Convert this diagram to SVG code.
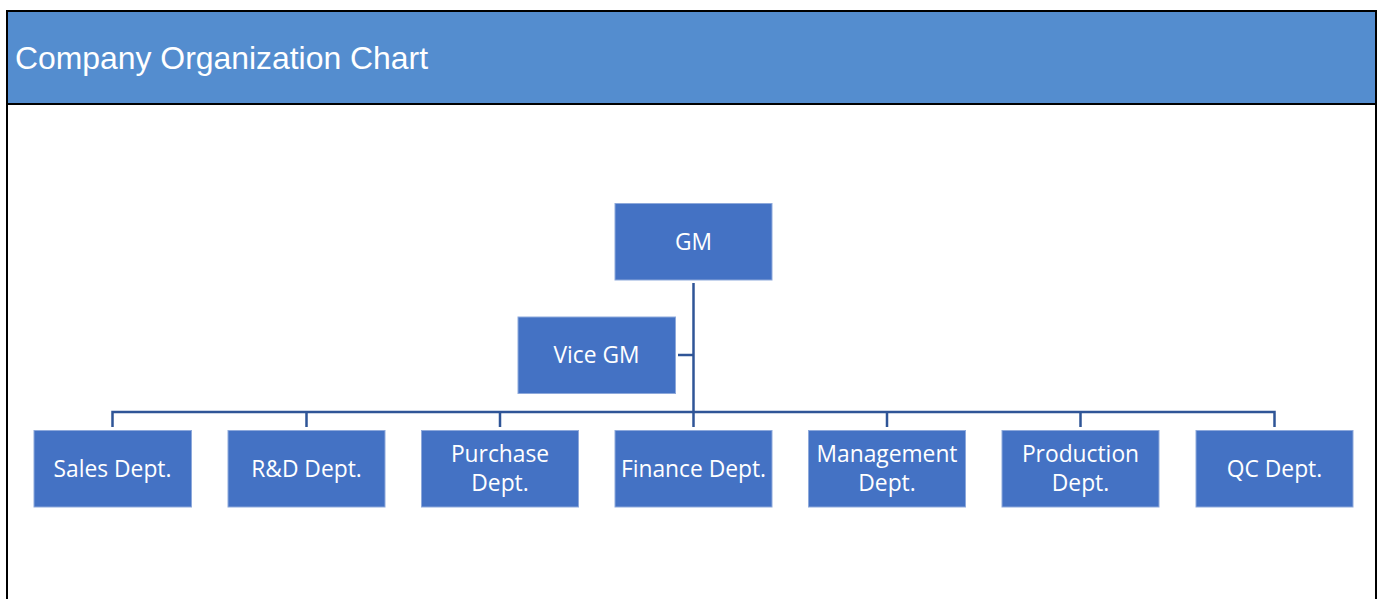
<svg xmlns="http://www.w3.org/2000/svg" width="1380" height="599" viewBox="0 0 1380 599">
<style>
.frame{fill:#fff;stroke:#000;stroke-width:2}
.header{fill:#548DCF}
.title{font-family:"Liberation Sans",Arial,sans-serif;font-size:31.9px;fill:#fff}
.box{fill:#4472C4;stroke:#8EA9DB;stroke-width:1}
.lbl{font-family:"Open Sans","Noto Sans",sans-serif;font-size:22.8px;fill:#fff;text-anchor:middle}
.conn{fill:none;stroke:#2F5597;stroke-width:2.5}
</style>
<rect x="0" y="0" width="1380" height="599" fill="#fff"/>
<rect class="frame" x="7" y="11" width="1369" height="600"/>
<rect class="header" x="8" y="12" width="1367" height="91"/>
<line x1="7" y1="104" x2="1376" y2="104" stroke="#000" stroke-width="2"/>
<text class="title" x="15" y="69">Company Organization Chart</text>
<g id="connectors">
<path class="conn" d="M693.5 283 V427"/>
<path class="conn" d="M678 355 H693.5"/>
<path class="conn" d="M112.5 427 V412 H1274.5 V427"/>
<path class="conn" d="M306.5 412 V427 M500 412 V427 M887 412 V427 M1080.5 412 V427"/>
</g>
<g id="gm"><rect class="box" x="615" y="203.5" width="157" height="76.5"/><text class="lbl" x="693.5" y="250">GM</text></g>
<g id="vicegm"><rect class="box" x="518" y="317" width="157.5" height="76.5"/><text class="lbl" x="596.5" y="363">Vice GM</text></g>
<g id="sales"><rect class="box" x="34" y="430.5" width="157.5" height="76.5"/><text class="lbl" x="112.5" y="477">Sales Dept.</text></g>
<g id="rd"><rect class="box" x="228" y="430.5" width="157" height="76.5"/><text class="lbl" x="306.5" y="477">R&amp;D Dept.</text></g>
<g id="purchase"><rect class="box" x="421.5" y="430.5" width="157" height="76.5"/><text class="lbl" x="500" y="462">Purchase</text><text class="lbl" x="500" y="491">Dept.</text></g>
<g id="finance"><rect class="box" x="615" y="430.5" width="157" height="76.5"/><text class="lbl" x="693.5" y="477">Finance Dept.</text></g>
<g id="management"><rect class="box" x="808.5" y="430.5" width="157" height="76.5"/><text class="lbl" x="887" y="462">Management</text><text class="lbl" x="887" y="491">Dept.</text></g>
<g id="production"><rect class="box" x="1002" y="430.5" width="157" height="76.5"/><text class="lbl" x="1080.5" y="462">Production</text><text class="lbl" x="1080.5" y="491">Dept.</text></g>
<g id="qc"><rect class="box" x="1196" y="430.5" width="157" height="76.5"/><text class="lbl" x="1274.5" y="477">QC Dept.</text></g>
</svg>
